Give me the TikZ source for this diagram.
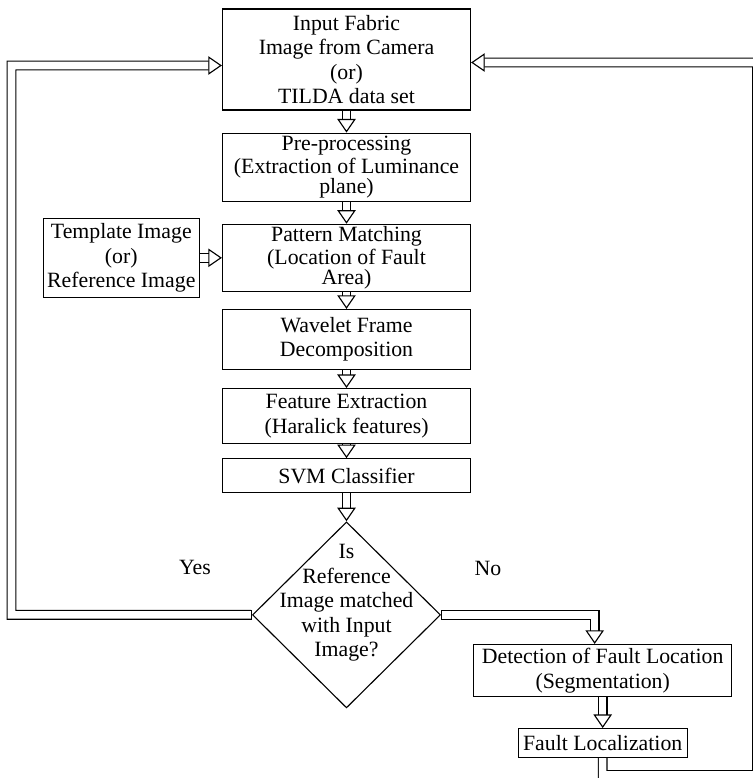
\documentclass[tikz,border=0pt]{standalone}
\usepackage{fontspec}
\setmainfont{Liberation Serif}
\usetikzlibrary{arrows.meta,positioning,shapes.geometric}

\begin{document}
\begin{tikzpicture}[
    x=0.025cm, y=-0.025cm,
    font=\fontsize{15.5}{17.5}\selectfont,
    box/.style={rectangle, draw=black, line width=0.8pt, align=center, minimum width=6.2cm, inner sep=2pt},
    tight/.style={inner sep=0pt, font=\fontsize{15.5}{16}\selectfont},
    decision/.style={diamond, draw=black, line width=0.8pt, minimum width=4.7cm, minimum height=4.65cm, inner sep=0pt},
    flow/.style={double, double distance=0.19cm, line width=0.8pt, -{Triangle[open, length=0.34cm, width=0.46cm, line width'=0.8pt]}},
    startbar/.style={{Bar[width=0.23cm, line width'=0.8pt]}-{Triangle[open, length=0.34cm, width=0.46cm, line width'=0.8pt]}}
]
\useasboundingbox (0,0) rectangle (753,778);
\clip (0,0) rectangle (753,778);

\node[box, minimum height=2.525cm] (inp) at (346.5,59.5) {Input Fabric\\Image from Camera\\(or)\\TILDA data set};
\node[box, tight, minimum height=1.7cm, below=0.55cm of inp] (pre) {Pre-processing\\(Extraction of Luminance\\[-2pt]plane)};
\node[box, tight, minimum height=1.675cm, below=0.55cm of pre] (pat) {Pattern Matching\\(Location of Fault\\[-2pt]Area)};
\node[box, minimum height=1.5cm, below=0.425cm of pat] (wav) {Wavelet Frame\\Decomposition};
\node[box, minimum height=1.375cm, below=0.45cm of wav] (feat) {Feature Extraction\\(Haralick features)};
\node[box, minimum height=0.85cm, below=0.35cm of feat] (svm) {SVM Classifier};
\node[decision, below=0.7cm of svm] (dec) {};
\node[align=center] (dectext) at ([yshift=0.3cm]dec.center) {Is\\Reference\\Image matched\\with Input\\Image?};

\node[box, minimum width=3.9cm, minimum height=1.975cm, left=0.55cm of pat] (tpl) {Template Image\\(or)\\Reference Image};

\node[box, minimum width=6.45cm, minimum height=1.3cm, below right=0.725cm and 0.8cm of dec.east] (det) {Detection of Fault Location\\(Segmentation)};
\node[box, minimum width=4.225cm, minimum height=0.725cm, below=0.775cm of det] (loc) {Fault Localization};

\node (yes) at (195,567) {Yes};
\node (no) at (488,568) {No};

\coordinate (lc) at (11.5,65.5);
\coordinate (rb) at (757,775);
\coordinate (rt) at (757,62.5);

\draw[flow] (inp) -- (pre);
\draw[flow] (pre) -- (pat);
\draw[flow] (tpl) -- (pat);
\draw[flow] (pat) -- (wav);
\draw[flow] (wav) -- (feat);
\draw[flow] (feat) -- (svm);
\draw[flow] (svm) -- (dec);
\draw[flow, startbar] (dec.west) -| (lc) -- ([yshift=-0.15cm]inp.west);
\draw[flow, startbar] (dec.east) -| ([xshift=-0.2cm]det.north);
\draw[flow] (det) -- (loc);
\draw[flow] (loc.south) |- (rb) -- (rt) -- ([yshift=-0.075cm]inp.east);
\end{tikzpicture}
\end{document}
